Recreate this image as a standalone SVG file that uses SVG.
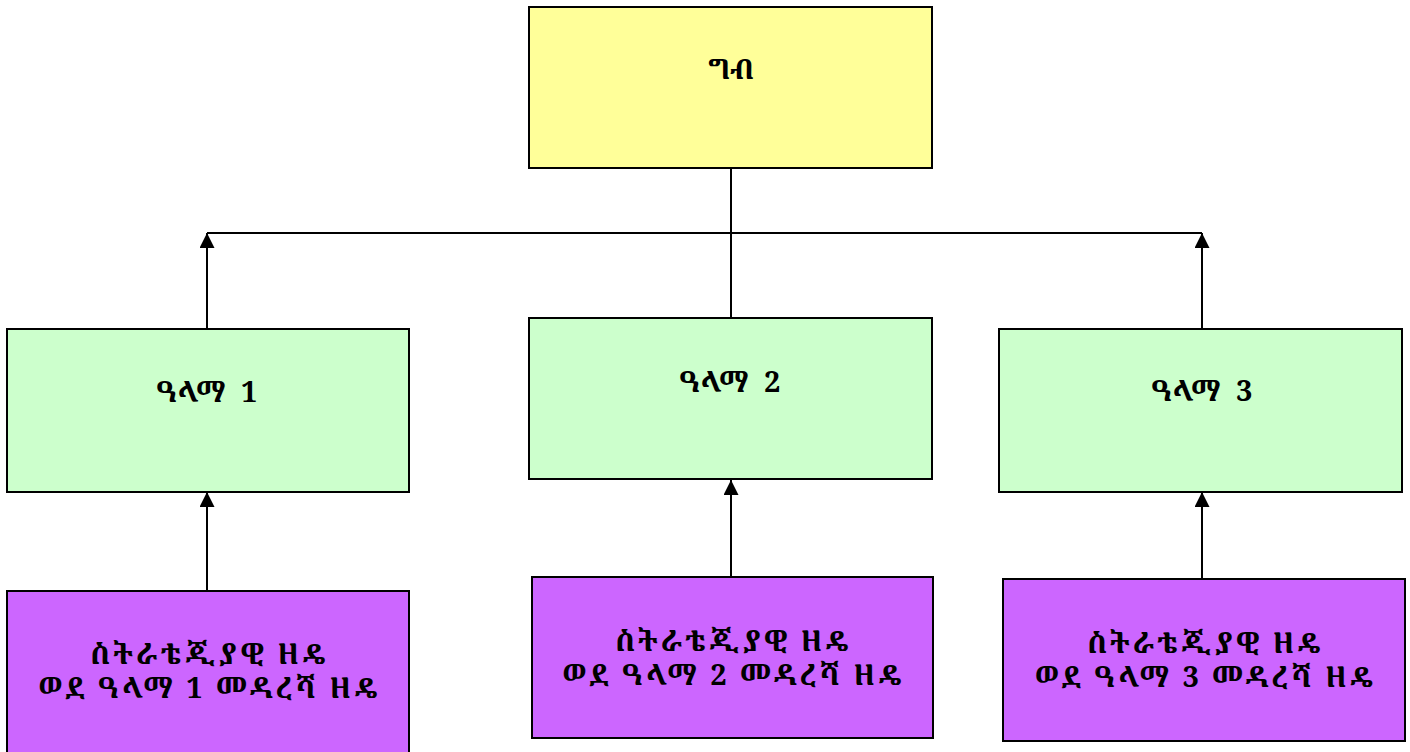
<svg xmlns="http://www.w3.org/2000/svg" width="1410" height="752" viewBox="0 0 1410 752">
<defs>
<marker id="arr" viewBox="0 0 10 10" refX="10" refY="5" markerWidth="16" markerHeight="15" markerUnits="userSpaceOnUse" orient="auto">
<path d="M0,0 L10,5 L0,10 Z" fill="#000"/>
</marker>
<style>
.box{stroke:#000;stroke-width:2}
.goal{fill:#FFFF99}
.obj{fill:#CCFFCC}
.str{fill:#CC66FF}
.t{font-family:"Noto Serif Ethiopic","Abyssinica SIL","Noto Sans Ethiopic","Liberation Serif",serif;font-weight:bold;font-size:29px;fill:#000;text-anchor:middle}
.c{stroke:#000;stroke-width:2;fill:none}
</style>
</defs>
<rect width="1410" height="752" fill="#fff"/>
<g id="connectors">
<line class="c" x1="731" y1="168" x2="731" y2="318"/>
<line class="c" x1="207" y1="233" x2="1202" y2="233"/>
<line class="c" x1="207" y1="329" x2="207" y2="233" marker-end="url(#arr)"/>
<line class="c" x1="1202" y1="329" x2="1202" y2="233" marker-end="url(#arr)"/>
<line class="c" x1="207" y1="591" x2="207" y2="492" marker-end="url(#arr)"/>
<line class="c" x1="731" y1="577" x2="731" y2="480" marker-end="url(#arr)"/>
<line class="c" x1="1202" y1="579" x2="1202" y2="492" marker-end="url(#arr)"/>
</g>
<g id="goal">
<rect class="box goal" x="529" y="7" width="403" height="161"/>
<text class="t" x="731" y="79" style="font-size:28px">ግብ</text>
</g>
<g id="objective1">
<rect class="box obj" x="7" y="329" width="402" height="163"/>
<text class="t" x="207" y="402" xml:space="preserve" textLength="101" lengthAdjust="spacing">ዓላማ  1</text>
</g>
<g id="objective2">
<rect class="box obj" x="529" y="318" width="403" height="161"/>
<text class="t" x="730" y="392" xml:space="preserve" textLength="101" lengthAdjust="spacing">ዓላማ  2</text>
</g>
<g id="objective3">
<rect class="box obj" x="999" y="329" width="403" height="163"/>
<text class="t" x="1202" y="401" xml:space="preserve" textLength="101" lengthAdjust="spacing">ዓላማ  3</text>
</g>
<g id="strategy1">
<rect class="box str" x="7" y="591" width="402" height="164"/>
<text class="t" x="208" y="664" textLength="235" lengthAdjust="spacing">ስትራቴጂያዊ ዘዴ</text>
<text class="t" x="208" y="698" textLength="339" lengthAdjust="spacing">ወደ ዓላማ 1 መዳረሻ ዘዴ</text>
</g>
<g id="strategy2">
<rect class="box str" x="532" y="577" width="401" height="161"/>
<text class="t" x="732" y="651" textLength="233" lengthAdjust="spacing">ስትራቴጂያዊ ዘዴ</text>
<text class="t" x="732" y="685" textLength="339" lengthAdjust="spacing">ወደ ዓላማ 2 መዳረሻ ዘዴ</text>
</g>
<g id="strategy3">
<rect class="box str" x="1003" y="579" width="402" height="162"/>
<text class="t" x="1204" y="653" textLength="233" lengthAdjust="spacing">ስትራቴጂያዊ ዘዴ</text>
<text class="t" x="1204" y="687" textLength="338" lengthAdjust="spacing">ወደ ዓላማ 3 መዳረሻ ዘዴ</text>
</g>
</svg>
